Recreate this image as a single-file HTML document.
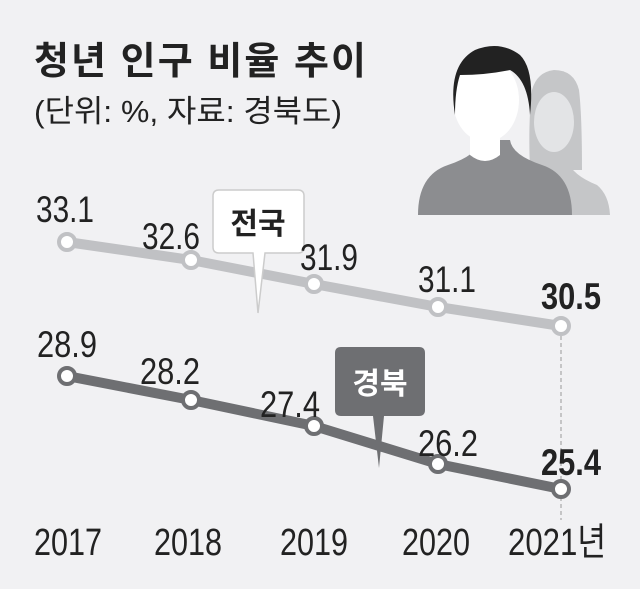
<!DOCTYPE html>
<html><head><meta charset="utf-8"><style>
body{margin:0;background:#f1f1f3;}
svg{display:block}
text{font-family:"Liberation Sans","Noto Sans CJK KR",sans-serif;fill:#222}
</style></head><body>
<svg width="640" height="589" viewBox="0 0 640 589">
<rect width="640" height="589" fill="#f1f1f3"/>
<text x="34" y="74" font-size="38" font-weight="bold" textLength="332">청년 인구 비율 추이</text>
<text x="34" y="122" font-size="31" fill="#333" textLength="308" lengthAdjust="spacingAndGlyphs">(단위: %, 자료: 경북도)</text>
<!-- people -->
<g>
<path d="M532 90 q5 -18 22 -20 q20 0 25 20 q3 25 3 80 l-52 0 q-2 -50 2 -80z" fill="#c5c6c8"/>
<path d="M525 185 q25 -10 30 -25 l12 0 q5 15 30 25 q12 10 13 30 l-90 0z" fill="#c5c6c8"/>
<ellipse cx="554" cy="122" rx="20" ry="30" fill="#e3e4e6"/>
<path d="M418 215 q0 -40 30 -50 q30 -10 32 -25 l30 0 q2 15 32 25 q30 10 30 50z" fill="#8c8d90"/>
<path d="M470 130 l0 25 q15 12 30 0 l0 -25z" fill="#fff"/>
<ellipse cx="486" cy="100" rx="33" ry="42" fill="#fff"/>
<path d="M455 115 q-8 -50 20 -65 q25 -10 45 5 q15 15 10 60 q-2 -35 -20 -45 q-25 5 -50 5 q-5 15 -5 40z" fill="#222"/>
</g>
<!-- dashed -->
<line x1="561" y1="336" x2="561" y2="520" stroke="#999" stroke-width="1" stroke-dasharray="4,3"/>
<!-- lines -->
<polyline points="67,242 191,260 314,284 438,307 561,326" fill="none" stroke="#c0c1c4" stroke-width="10"/>
<polyline points="67,376 191,400 314,426 438,464 561,489" fill="none" stroke="#6e6f72" stroke-width="10"/>
<g fill="#fff" stroke="#c0c1c4" stroke-width="4">
<circle cx="67" cy="242" r="8"/><circle cx="191" cy="260" r="8"/><circle cx="314" cy="284" r="8"/><circle cx="438" cy="307" r="8"/><circle cx="561" cy="326" r="8"/></g>
<g fill="#fff" stroke="#6e6f72" stroke-width="4">
<circle cx="67" cy="376" r="8"/><circle cx="191" cy="400" r="8"/><circle cx="314" cy="426" r="8"/><circle cx="438" cy="464" r="8"/><circle cx="561" cy="489" r="8"/></g>
<!-- callouts -->
<path d="M219 190 h79 q6 0 6 6 v51 q0 6 -6 6 h-33 l-7 60 l-5 -60 h-34 q-6 0 -6 -6 v-51 q0 -6 6 -6z" fill="#fff" stroke="#ccc" stroke-width="1.5"/>
<text x="258" y="234" font-size="30" font-weight="bold" text-anchor="middle">전국</text>
<path d="M341 347 h78 q6 0 6 6 v57 q0 6 -6 6 h-35 l-5 52 l-6 -52 h-32 q-6 0 -6 -6 v-57 q0 -6 6 -6z" fill="#6e6f72"/>
<text x="380" y="394" font-size="30" font-weight="bold" text-anchor="middle" style="fill:#fff">경북</text>
<!-- values -->
<g font-size="37" text-anchor="middle" lengthAdjust="spacingAndGlyphs">
<text x="65" y="222" textLength="58" lengthAdjust="spacingAndGlyphs">33.1</text>
<text x="171" y="249" textLength="58" lengthAdjust="spacingAndGlyphs">32.6</text>
<text x="329" y="270" textLength="58" lengthAdjust="spacingAndGlyphs">31.9</text>
<text x="447" y="292" textLength="58" lengthAdjust="spacingAndGlyphs">31.1</text>
<text x="571" y="309" font-weight="bold" textLength="60" lengthAdjust="spacingAndGlyphs">30.5</text>
<text x="67" y="357" textLength="60" lengthAdjust="spacingAndGlyphs">28.9</text>
<text x="170" y="384" textLength="60" lengthAdjust="spacingAndGlyphs">28.2</text>
<text x="290" y="417" textLength="60" lengthAdjust="spacingAndGlyphs">27.4</text>
<text x="448" y="456" textLength="60" lengthAdjust="spacingAndGlyphs">26.2</text>
<text x="571" y="475" font-weight="bold" textLength="60" lengthAdjust="spacingAndGlyphs">25.4</text>
</g>
<g font-size="38">
<text x="34" y="555" textLength="68" lengthAdjust="spacingAndGlyphs">2017</text>
<text x="154" y="555" textLength="68" lengthAdjust="spacingAndGlyphs">2018</text>
<text x="280" y="555" textLength="68" lengthAdjust="spacingAndGlyphs">2019</text>
<text x="402" y="555" textLength="68" lengthAdjust="spacingAndGlyphs">2020</text>
<text x="508" y="555" textLength="98" lengthAdjust="spacingAndGlyphs">2021년</text>
</g>
</svg>
</body></html>
